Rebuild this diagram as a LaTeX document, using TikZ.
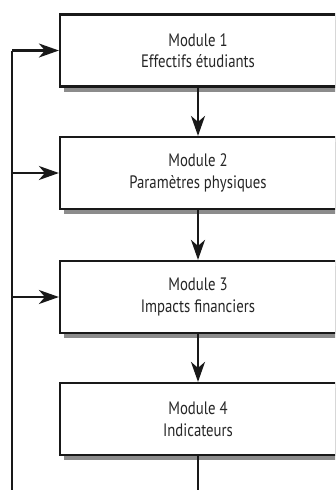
\documentclass[tikz,border=0pt]{standalone}
\usepackage{fontspec}
\setmainfont[FakeStretch=0.82]{PT Sans}
\usetikzlibrary{arrows.meta,shadows}
\begin{document}
\begin{tikzpicture}[x=1pt,y=-1pt,
  modbox/.style={draw=black!90,line width=2.2pt,fill=white,minimum width=276pt,minimum height=72pt,
    align=center,inner sep=0pt,font=\fontsize{18}{21.5}\selectfont,text=black!85,
    drop shadow={shadow xshift=4pt,shadow yshift=-5pt,fill=black!45,opacity=1}},
  conn/.style={line width=2.2pt,draw=black!90,-{Stealth[length=20pt,width=14pt,inset=6pt]}},
  plain/.style={line width=2.2pt,draw=black!90}]
\useasboundingbox (0,0) rectangle (335,490);
\clip (0,0) rectangle (335,490);
\node[modbox] (m1) at (198,50.5) {Module 1\\Effectifs étudiants};
\node[modbox] (m2) at (198,173) {Module 2\\Paramètres physiques};
\node[modbox] (m3) at (198,297) {Module 3\\Impacts financiers};
\node[modbox] (m4) at (198,419) {Module 4\\Indicateurs};
\draw[conn] (m1) -- (m2);
\draw[conn] (m2) -- (m3);
\draw[conn] (m3) -- (m4);
\coordinate (b) at (198,520);
\coordinate (bl) at (12,520);
\coordinate (t1) at (12,50.5);
\coordinate (t2) at (12,173);
\coordinate (t3) at (12,297);
\draw[plain] (m4.south) -- (b) -- (bl) -- (t1);
\draw[conn] (t1) -- (m1.west);
\draw[conn] (t2) -- (m2.west);
\draw[conn] (t3) -- (m3.west);
\end{tikzpicture}
\end{document}
